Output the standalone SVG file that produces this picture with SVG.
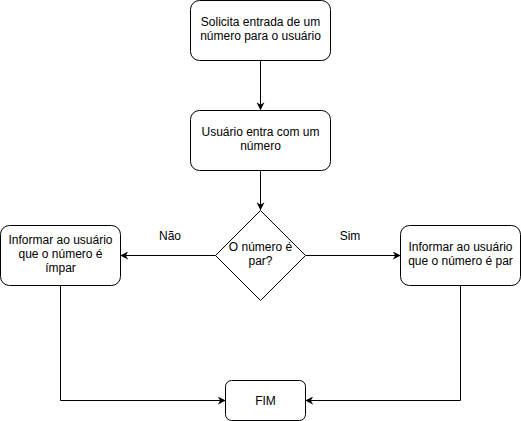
<svg xmlns="http://www.w3.org/2000/svg" width="521" height="421" viewBox="0 0 521 421">
<style>
.n{fill:#fff;stroke:#000;stroke-width:1}
.e{fill:none;stroke:#000;stroke-width:1}
text{font-family:"Liberation Sans",Arial,sans-serif;font-size:12px;fill:#000;text-anchor:middle}
</style>
<defs>
<marker id="a" viewBox="0 0 10 10" refX="9" refY="5" markerWidth="8" markerHeight="8" markerUnits="userSpaceOnUse" orient="auto">
<path d="M0,0 L10,5 L0,10 L3,5 Z" fill="#000"/>
</marker>
</defs>
<rect width="521" height="421" fill="#fff"/>
<g id="connectors">
<path class="e" d="M260.5,60.5 V109.5" marker-end="url(#a)"/>
<path class="e" d="M260.5,170.5 V209.5" marker-end="url(#a)"/>
<path class="e" d="M215.5,255.5 H121" marker-end="url(#a)"/>
<path class="e" d="M305.5,255.5 H400" marker-end="url(#a)"/>
<path class="e" d="M60.5,285.5 V400.5 H225" marker-end="url(#a)"/>
<path class="e" d="M460.5,285.5 V400.5 H306" marker-end="url(#a)"/>
<text x="170" y="240">Não</text>
<text x="350" y="240">Sim</text>
</g>
<g id="n1">
<rect class="n" x="190.5" y="0.5" width="140" height="60" rx="9"/>
<text x="260.5" y="26">Solicita entrada de um</text>
<text x="260.5" y="40">número para o usuário</text>
</g>
<g id="n2">
<rect class="n" x="190.5" y="110.5" width="140" height="60" rx="9"/>
<text x="260.5" y="136">Usuário entra com um</text>
<text x="260.5" y="150">número</text>
</g>
<g id="n3">
<path class="n" d="M260.5,210.5 L305.5,255.5 L260.5,300.5 L215.5,255.5 Z"/>
<text x="260.5" y="251">O número é</text>
<text x="260.5" y="265">par?</text>
</g>
<g id="n4">
<rect class="n" x="0.5" y="225.5" width="120" height="60" rx="9"/>
<text x="60.5" y="244">Informar ao usuário</text>
<text x="60.5" y="258">que o número é</text>
<text x="60.5" y="272">ímpar</text>
</g>
<g id="n5">
<rect class="n" x="400.5" y="225.5" width="120" height="60" rx="9"/>
<text x="460.5" y="251">Informar ao usuário</text>
<text x="460.5" y="265">que o número é par</text>
</g>
<g id="n6">
<rect class="n" x="225.5" y="380.5" width="80" height="40" rx="6"/>
<text x="265.5" y="404.5">FIM</text>
</g>
</svg>
